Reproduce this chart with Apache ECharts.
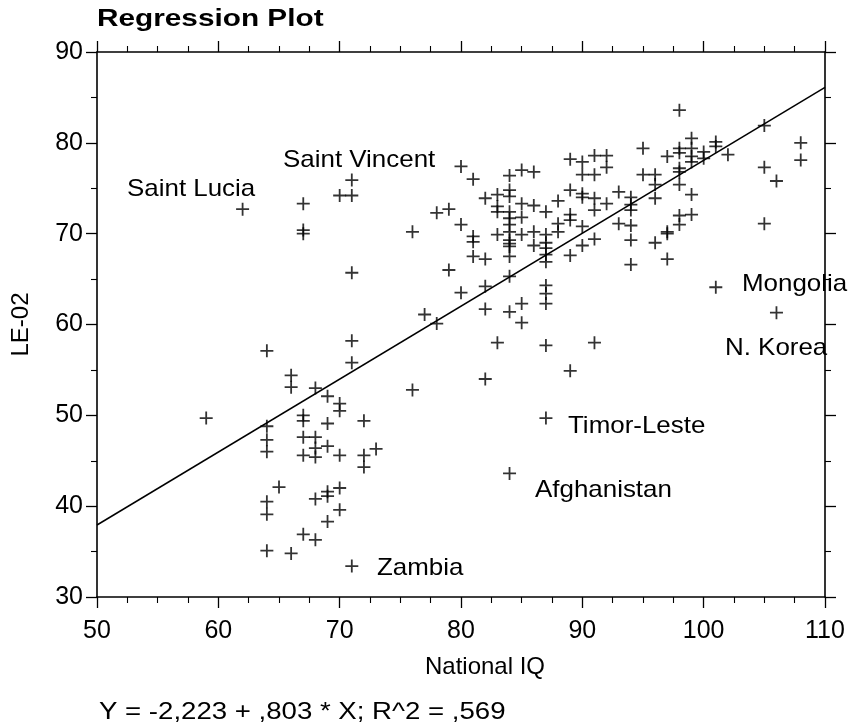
<!DOCTYPE html>
<html>
<head>
<meta charset="utf-8">
<title>Regression Plot</title>
<script src="https://cdn.jsdelivr.net/npm/echarts@6.0.0/dist/echarts.min.js"></script>
<style>
    html, body { margin: 0; padding: 0; background: #fff; }
    #chart { width: 853px; height: 727px; }
</style>
</head>
<body>
<div id="chart"></div>
<script>
// national IQ (x) and life expectancy 2002 (y), one entry per country
const nationalIQ = [
    59, 62, 64, 64, 64, 64, 64, 64, 64, 65, 66, 66, 66,
    67, 67, 67, 67, 67, 67, 67, 67, 68, 68, 68, 68, 68, 68,
    69, 69, 69, 69, 69, 69, 70, 70, 70, 70, 70, 70,
    71, 71, 71, 71, 71, 71, 72, 72, 72, 73, 76, 76, 77, 78, 78, 79, 79,
    80, 80, 80, 81, 81, 81, 81, 82, 82, 82, 82, 82, 83, 83, 83, 83, 83,
    84, 84, 84, 84, 84, 84, 84, 84, 84, 84, 84, 84, 84, 84,
    85, 85, 85, 85, 85, 85, 86, 86, 86, 86,
    87, 87, 87, 87, 87, 87, 87, 87, 87, 87, 87, 88, 88, 88,
    89, 89, 89, 89, 89, 89, 90, 90, 90, 90, 90, 90,
    91, 91, 91, 91, 91, 91, 92, 92, 92, 93, 93,
    94, 94, 94, 94, 94, 94, 95, 95, 96, 96, 96, 96, 97, 97, 97, 97,
    98, 98, 98, 98, 98, 98, 98, 98, 99, 99, 99, 99, 99, 99,
    100, 100, 101, 101, 101, 102, 105, 105, 105, 106, 106, 108, 108
]
const lifeExp = [
    49.7, 72.7, 57.1, 48.8, 47.3, 46.0, 40.5, 39.1, 35.1, 42.1, 54.4, 53.1, 34.8,
    73.3, 70.4, 70.0, 50.0, 49.4, 47.6, 45.6, 36.9, 53.0, 47.6, 46.4, 45.4, 40.8, 36.3,
    52.1, 49.1, 46.6, 41.6, 41.1, 38.3, 74.2, 51.3, 50.5, 45.6, 42.0, 39.6,
    75.9, 74.2, 65.7, 58.2, 55.8, 33.4, 49.4, 45.6, 44.3, 46.3, 70.2, 52.8, 61.1, 72.3, 60.1, 72.7, 66.0,
    77.4, 71.0, 63.5, 76.0, 69.7, 69.1, 67.5, 73.9, 67.2, 64.2, 61.7, 54.0, 74.3, 73.0, 72.4, 69.9, 58.0,
    76.4, 74.8, 74.1, 72.4, 71.7, 71.0, 70.2, 69.3, 68.9, 68.6, 67.5, 65.3, 61.4, 43.6,
    77.0, 73.3, 71.8, 69.9, 62.3, 60.2, 76.8, 73.1, 70.2, 68.7,
    72.4, 69.9, 69.0, 68.4, 67.7, 66.9, 64.3, 63.4, 62.3, 57.7, 49.7, 73.6, 71.1, 70.2,
    78.2, 74.8, 72.1, 71.5, 67.6, 54.9, 77.9, 76.5, 74.4, 74.0, 70.8, 68.7,
    78.6, 76.5, 73.9, 72.6, 69.4, 58.0, 78.6, 77.3, 73.3, 74.6, 71.1,
    74.0, 73.2, 72.6, 70.9, 69.3, 66.6, 79.4, 76.5, 76.5, 75.4, 73.9, 69.0, 78.5, 70.2, 70.0, 67.2,
    83.6, 79.4, 78.9, 77.2, 76.8, 75.4, 72.0, 71.0, 80.5, 79.4, 78.5, 77.9, 74.3, 72.1,
    79.0, 78.3, 80.1, 79.6, 64.1, 78.7, 81.9, 77.3, 71.1, 75.8, 61.3, 80.0, 78.1
]

// fitted line from the printed equation
const intercept = -2.223
const slope = 0.803
const equationText = 'Y = -2,223 + ,803 * X; R^2 = ,569'

const labelNames = ['Saint Lucia', 'Saint Vincent', 'Mongolia', 'N. Korea', 'Timor-Leste', 'Afghanistan', 'Zambia']
const labelPos = [[127, 189], [283, 160], [742, 284], [725, 348], [568, 426], [535, 490], [377, 568]]

const font = '"Liberation Sans", Arial, sans-serif'

const makeAxis = (extra, minorSplit) => Object.assign({
    type: 'value',
    axisLine: { show: true, onZero: false, lineStyle: { color: '#000', width: 1.6 } },
    axisTick: { show: true, inside: false, length: 11, lineStyle: { color: '#000', width: 1.3 } },
    minorTick: { show: true, splitNumber: minorSplit, length: 6, lineStyle: { color: '#000', width: 1.1 } },
    splitLine: { show: false },
    minorSplitLine: { show: false },
    axisLabel: { show: false }
}, extra)

const chart = echarts.init(document.getElementById('chart'))

const points = nationalIQ.map((x, i) => [x, lifeExp[i]])
const fitLine = [[50, intercept + slope * 50], [110, intercept + slope * 110]]

const graphics = labelNames.map((name, i) => ({
    type: 'text',
    x: labelPos[i][0],
    y: labelPos[i][1],
    scaleX: 1.08,
    style: {
        text: name, fill: '#000', fontSize: 24, fontFamily: font,
        align: 'left', verticalAlign: 'middle'
    }
}))
graphics.push({
    type: 'text', x: 97, y: 19, scaleX: 1.24,
    style: {
        text: 'Regression Plot', fill: '#000', fontSize: 24, fontWeight: 'bold',
        fontFamily: font, align: 'left', verticalAlign: 'middle'
    }
})
graphics.push({
    type: 'text', x: 99, y: 712, scaleX: 1.15,
    style: {
        text: equationText, fill: '#000', fontSize: 24, fontFamily: font,
        align: 'left', verticalAlign: 'middle'
    }
})

chart.setOption({
    animation: false,
    backgroundColor: '#fff',
    grid: { left: 97, right: 28, top: 52, bottom: 130 },
    xAxis: [
        makeAxis({
            position: 'bottom', min: 50, max: 110, interval: 10,
            axisLabel: { show: true, color: '#000', fontSize: 25, fontFamily: font, margin: 22 },
            name: 'National IQ', nameLocation: 'middle', nameGap: 58,
            nameTextStyle: { color: '#000', fontSize: 24, fontFamily: font, padding: [0, 0, 0, 48] }
        }, 4),
        makeAxis({ position: 'top', min: 50, max: 110, interval: 10 }, 4)
    ],
    yAxis: [
        makeAxis({
            position: 'left', min: 30, max: 90, interval: 10,
            axisLabel: { show: true, color: '#000', fontSize: 25, fontFamily: font, margin: 14 },
            name: 'LE-02', nameLocation: 'middle', nameGap: 64, nameRotate: 90,
            nameTextStyle: { color: '#000', fontSize: 24, fontFamily: font }
        }, 2),
        makeAxis({ position: 'right', min: 30, max: 90, interval: 10 }, 2)
    ],
    series: [
        {
            type: 'line',
            data: fitLine,
            showSymbol: false,
            silent: true,
            lineStyle: { color: '#000', width: 1.5 }
        },
        {
            type: 'scatter',
            data: points,
            symbol: 'path://M-0.9,-6.5H0.9V-0.9H6.5V0.9H0.9V6.5H-0.9V0.9H-6.5V-0.9H-0.9Z',
            symbolSize: 13,
            itemStyle: { color: '#000' },
            silent: true
        }
    ],
    graphic: graphics
})

window.onresize = () => {
    chart.resize()
}
</script>
</body>
</html>
